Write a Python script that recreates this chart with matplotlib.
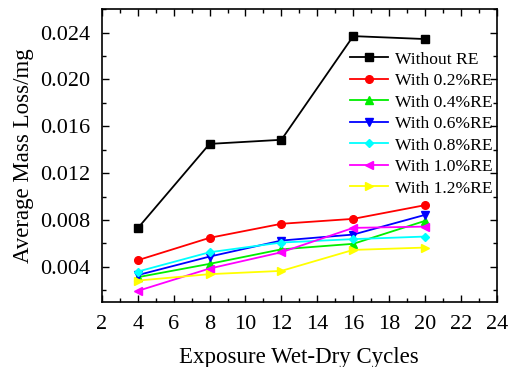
import matplotlib
matplotlib.use("Agg")
import matplotlib.pyplot as plt
from matplotlib.ticker import MultipleLocator

plt.rcParams["font.family"] = ["Liberation Serif", "DejaVu Serif"]

cycles = [4, 8, 12, 16, 20]
without_re = [0.0073, 0.0145, 0.01485, 0.0237, 0.02345]
re_02 = [0.00457, 0.00648, 0.00768, 0.0081, 0.00927]
re_04 = [0.00312, 0.00426, 0.0055, 0.00597, 0.00793]
re_06 = [0.0033, 0.00488, 0.00625, 0.00676, 0.00844]
re_08 = [0.0036, 0.00525, 0.00608, 0.00637, 0.00659]
re_10 = [0.00195, 0.00386, 0.00525, 0.00733, 0.00744]
re_12 = [0.00283, 0.00338, 0.00366, 0.00545, 0.00565]

labels = ["Without RE", "With 0.2%RE", "With 0.4%RE", "With 0.6%RE",
          "With 0.8%RE", "With 1.0%RE", "With 1.2%RE"]
series = [without_re, re_02, re_04, re_06, re_08, re_10, re_12]
colors = ["black", "red", "#00ee00", "blue", "cyan", "magenta", "yellow"]
markers = ["s", "o", "^", "v", "D", "<", ">"]

fig = plt.figure(figsize=(5.17, 3.67), dpi=100)
ax = fig.add_axes([0.197, 0.177, 0.764, 0.798])

for vals, lab, c, m in zip(series, labels, colors, markers):
    ms = 4.5 if m == "D" else 5.5
    ax.plot(cycles, vals, color=c, marker=m, markersize=ms, linewidth=1.3, label=lab)

ax.set_xlim(2, 24)
ax.set_ylim(0.001, 0.026)
ax.xaxis.set_major_locator(MultipleLocator(2))
ax.xaxis.set_minor_locator(MultipleLocator(1))
ax.yaxis.set_minor_locator(MultipleLocator(0.002))
ax.set_yticks([0.004, 0.008, 0.012, 0.016, 0.020, 0.024])
ax.set_yticklabels(["0.004", "0.008", "0.012", "0.016", "0.020", "0.024"])
ax.tick_params(which="both", direction="in", top=True, right=True, labelsize=16)
ax.tick_params(axis="x", which="major", pad=9)
ax.tick_params(axis="y", which="major", pad=8)
ax.tick_params(which="major", length=5, width=1)
ax.tick_params(which="minor", length=3, width=1)
for s in ax.spines.values():
    s.set_linewidth(1.2)

ax.set_xlabel("Exposure Wet-Dry Cycles", fontsize=16.5, labelpad=10)
ax.set_ylabel("Average Mass Loss/mg", fontsize=16.5, labelpad=5)

ax.legend(loc="upper right", bbox_to_anchor=(0.995, 0.865), frameon=False,
          fontsize=12.6, handlelength=2.2, labelspacing=0.3, borderaxespad=0.0,
          borderpad=0.15, handletextpad=0.35)

fig.savefig("out.png", dpi=100)
